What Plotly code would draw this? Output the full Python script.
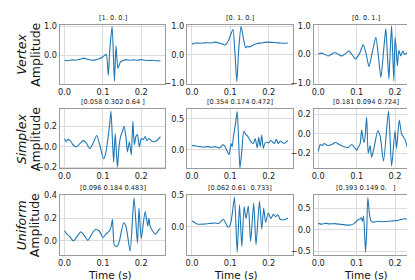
import plotly.graph_objects as go

# ---------------- data ----------------
# Row 1: Vertex
t_v1 = [0, .01, .02, .03, .04, .05, .06, .07, .08, .09, .1, .105, .109, .114, .118, .124, .13, .134, .139, .145, .15, .16, .17, .18, .19, .2, .21, .22, .23, .24, .25]
y_v1 = [-0.17, -0.19, -0.16, -0.17, -0.14, -0.1, -0.14, -0.17, -0.16, -0.12, -0.05, 0.0, 0.03, -0.7, 0.2, 1.0, -0.9, 0.33, -0.45, -0.25, -0.2, -0.15, -0.17, -0.16, -0.17, -0.15, -0.17, -0.18, -0.17, -0.19, -0.2]

t_v2 = [0, .01, .02, .03, .04, .05, .06, .07, .08, .086, .095, .102, .107, .112, .117, .122, .128, .134, .14, .145, .15, .16, .17, .18, .19, .2, .21, .22, .23, .24, .25]
y_v2 = [0.38, 0.42, 0.41, 0.42, 0.43, 0.42, 0.45, 0.42, 0.38, 0.35, 0.5, 0.75, 0.9, 0.1, -0.95, 0.2, 1.0, 0.6, 0.25, 0.3, 0.28, 0.35, 0.4, 0.42, 0.44, 0.45, 0.44, 0.43, 0.42, 0.41, 0.42]

t_v3 = [0, .009, .026, .043, .061, .08, .097, .108, .117, .125, .132, .141, .15, .157, .163, .17, .176, .18, .184, .188, .191, .194, .197, .2, .203, .206, .21, .215, .22, .225, .23, .24, .25]
y_v3 = [0.02, 0.05, -0.05, 0.07, -0.05, 0.12, -0.15, 0.05, 0.35, 0.0, -0.42, 0.1, 0.6, -0.1, -0.8, 0.1, 0.9, 0.0, -0.85, 0.3, 1.0, 0.0, -0.92, 0.6, 0.2, -0.4, 0.15, -0.05, 0.12, 0.0, 0.05, 0.0, 0.05]

# Row 2: Simplex
t_s1 = [0, .004, .008, .015, .022, .031, .04, .048, .056, .066, .075, .084, .093, .102, .108, .112, .117, .121, .125, .128, .132, .135, .138, .142, .146, .151, .155, .16, .164, .169, .174, .178, .182, .186, .19, .195, .2, .205, .21, .215, .22, .23, .24, .25]
y_s1 = [0.08, 0.05, 0.07, 0.06, 0.02, 0.0, 0.03, 0.06, 0.04, -0.02, 0.04, 0.11, 0.0, -0.12, -0.05, 0.05, 0.2, 0.35, 0.05, -0.15, 0.13, -0.05, -0.2, 0.0, 0.1, 0.15, 0.2, 0.1, -0.05, 0.05, -0.08, 0.25, 0.02, 0.1, 0.12, 0.0, 0.08, 0.07, 0.1, 0.06, 0.08, 0.05, 0.06, 0.1]

t_s2 = [0, .005, .01, .02, .03, .04, .05, .06, .07, .075, .08, .085, .09, .097, .102, .105, .108, .113, .118, .122, .125, .128, .131, .135, .14, .145, .15, .155, .16, .165, .17, .174, .178, .182, .186, .19, .195, .2, .205, .21, .215, .22, .225, .23, .235, .24, .25]
y_s2 = [0.06, 0.07, 0.06, 0.05, 0.04, 0.05, 0.04, 0.05, 0.03, 0.04, 0.08, 0.06, 0.0, -0.08, 0.1, 0.05, 0.2, 0.4, 0.62, 0.1, -0.3, -0.15, 0.05, 0.3, 0.25, 0.22, 0.17, 0.12, 0.1, 0.18, 0.03, 0.2, 0.05, 0.24, 0.02, 0.1, 0.12, 0.11, 0.15, 0.13, 0.1, 0.17, 0.1, 0.14, 0.12, 0.1, 0.15]

t_s3 = [0, .005, .01, .015, .025, .035, .045, .055, .065, .078, .087, .096, .1, .104, .109, .113, .117, .12, .126, .13, .135, .139, .146, .155, .161, .17, .183, .191, .2, .204, .211, .217, .226, .235, .239, .245, .25]
y_s3 = [-0.18, -0.11, -0.12, -0.1, -0.12, -0.11, -0.09, -0.11, -0.13, -0.14, -0.11, -0.15, -0.17, -0.14, -0.1, 0.04, -0.06, -0.09, 0.17, -0.2, -0.12, -0.24, -0.13, 0.03, -0.02, -0.28, 0.23, -0.33, 0.03, -0.15, 0.14, 0.0, -0.06, -0.17, -0.07, -0.09, -0.08]

# Row 3: Uniform
t_u1 = [0, .006, .013, .023, .032, .042, .05, .061, .07, .08, .09, .1, .108, .117, .121, .125, .13, .137, .143, .154, .16, .171, .181, .19, .194, .2, .21, .217, .22, .223, .229, .237, .246, .25]
y_u1 = [0.09, 0.06, 0.04, 0.0, 0.035, 0.08, 0.055, 0.005, 0.055, 0.1, 0.09, 0.03, 0.06, 0.09, 0.12, 0.19, -0.04, -0.05, 0.0, 0.16, 0.13, -0.09, 0.38, -0.02, 0.29, 0.02, 0.26, 0.13, 0.2, 0.13, 0.09, 0.06, 0.1, 0.11]

t_u2 = [0, .006, .015, .03, .045, .06, .07, .082, .094, .1, .105, .111, .118, .124, .13, .136, .141, .147, .153, .161, .167, .176, .182, .187, .192, .199, .206, .212, .218, .224, .23, .238, .245, .25]
y_u2 = [0.09, 0.07, 0.04, 0.04, 0.05, 0.06, 0.05, 0.12, -0.01, 0.03, 0.2, 0.47, -0.41, 0.35, -0.32, 0.32, 0.13, 0.33, -0.24, 0.38, -0.29, 0.41, -0.04, 0.3, 0.07, 0.22, 0.13, 0.2, 0.16, 0.19, 0.12, 0.11, 0.12, 0.14]

t_u3 = [0, .009, .018, .03, .043, .056, .069, .082, .093, .103, .108, .112, .115, .118, .123, .126, .129, .134, .138, .145, .155, .17, .185, .195, .207, .215, .224, .235, .242, .25]
y_u3 = [0.15, 0.13, 0.15, 0.14, 0.145, 0.13, 0.115, 0.11, 0.145, 0.23, 0.25, 0.28, 0.2, 0.32, -0.53, -0.06, 0.76, 0.32, 0.2, 0.18, 0.2, 0.19, 0.2, 0.21, 0.22, 0.24, 0.26, 0.25, 0.24, 0.2]

titles = ["[1. 0. 0.]", "[0. 1. 0.]", "[0. 0. 1.]",
          "[0.058 0.302 0.64 ]", "[0.354 0.174 0.472]", "[0.181 0.094 0.724]",
          "[0.096 0.184 0.483]", "[0.062 0.61  0.733]", "[0.393 0.149 0.   ]"]
row_names = ["Vertex", "Simplex", "Uniform"]
x_ticks = [0.0, 0.1, 0.2]
y_ticks = [[0.0, 1.0], [-1.0, 0.0, 1.0], [-1.0, 0.0, 1.0],
           [-0.2, 0.0, 0.2], [0.0, 0.5], [-0.2, 0.0, 0.2],
           [0.0, 0.2, 0.4], [0.0, 0.5], [-0.5, 0.0, 0.5]]

series = [(t_v1, y_v1), (t_v2, y_v2), (t_v3, y_v3),
          (t_s1, y_s1), (t_s2, y_s2), (t_s3, y_s3),
          (t_u1, y_u1), (t_u2, y_u2), (t_u3, y_u3)]

# ---------------- layout (pixels) ----------------
W, H = 415, 280
col_px = [(50, 156), (178, 284), (305, 411)]
row_px = [(13.3, 74), (100, 161), (188.3, 250)]
y_ranges = [[-0.99, 1.05], [-1.03, 1.06], [-1.02, 1.03],
            [-0.212, 0.369], [-0.305, 0.66], [-0.353, 0.25],
            [-0.123, 0.406], [-0.453, 0.51], [-0.59, 0.82]]

fig = go.Figure()
layout = dict(width=W, height=H, margin=dict(l=0, r=0, t=0, b=0),
              paper_bgcolor="white", plot_bgcolor="white", showlegend=False,
              font=dict(family="DejaVu Sans", color="#222222"))
annotations = []
axis_common = dict(showline=True, mirror=True, linecolor="#9a9a9a", linewidth=1.3,
                   showgrid=True, gridcolor="#dcdcdc", gridwidth=1, zeroline=False,
                   ticks="", tickfont=dict(size=8.2, color="#1a1a1a"), tickformat=".1f")

for i, (tx, ty) in enumerate(series):
    r, c = divmod(i, 3)
    k = i + 1
    xa = "x" if k == 1 else f"x{k}"
    ya = "y" if k == 1 else f"y{k}"
    fig.add_trace(go.Scatter(x=tx, y=ty, mode="lines", xaxis=xa, yaxis=ya,
                             line=dict(color="#1f77b4", width=1.1, shape="spline", smoothing=0.6)))
    x0, x1 = col_px[c]
    y0, y1 = row_px[r]
    layout["xaxis" if k == 1 else f"xaxis{k}"] = dict(
        axis_common, domain=[x0 / W, x1 / W], range=[-0.0125, 0.2625],
        tickvals=x_ticks, anchor=ya)
    layout["yaxis" if k == 1 else f"yaxis{k}"] = dict(
        axis_common, domain=[1 - y1 / H, 1 - y0 / H], range=y_ranges[i],
        tickvals=y_ticks[i], anchor=xa)
    annotations.append(dict(text=titles[i], x=(x0 + x1) / 2 / W, y=1 - (y0 - 7) / H,
                            xref="paper", yref="paper", showarrow=False,
                            xanchor="center", yanchor="middle",
                            font=dict(size=6.6, color="#1a1a1a")))

for r, name in enumerate(row_names):
    yc = 1 - (row_px[r][0] + row_px[r][1]) / 2 / H
    annotations.append(dict(text=f"<i>{name}</i>", x=11.5 / W, y=yc, xref="paper", yref="paper",
                            showarrow=False, textangle=-90, xanchor="center", yanchor="middle",
                            font=dict(size=12.5, color="#111111")))
    annotations.append(dict(text="Amplitude", x=25.5 / W, y=yc, xref="paper", yref="paper",
                            showarrow=False, textangle=-90, xanchor="center", yanchor="middle",
                            font=dict(size=12.5, color="#111111")))

for xc in [100, 227, 358]:
    annotations.append(dict(text="Time (s)", x=xc / W, y=1 - 270.5 / H, xref="paper", yref="paper",
                            showarrow=False, xanchor="center", yanchor="middle", borderpad=0,
                            font=dict(size=10.5, color="#111111")))

layout["annotations"] = annotations
fig.update_layout(**layout)
fig.write_html("out.html")
